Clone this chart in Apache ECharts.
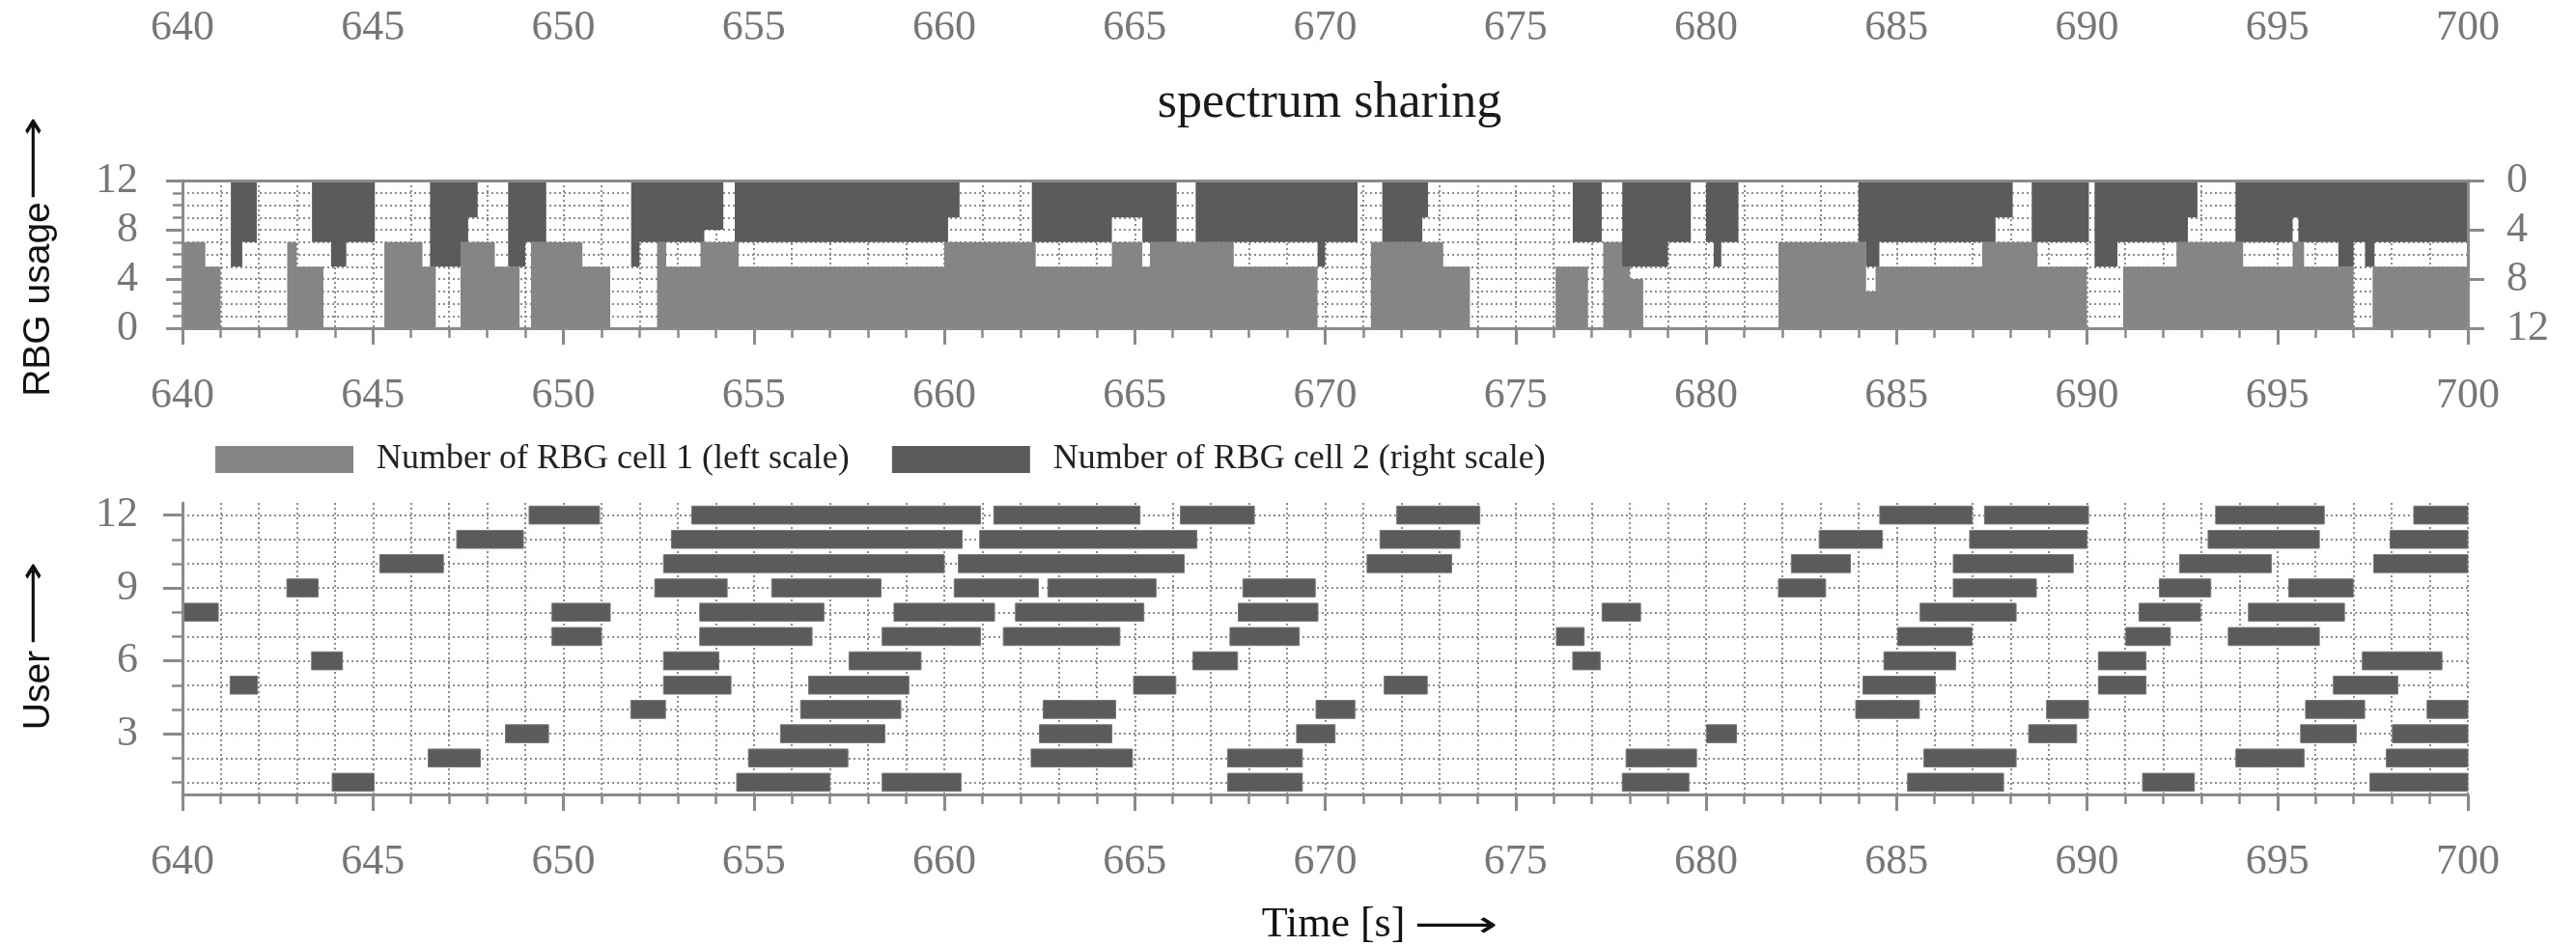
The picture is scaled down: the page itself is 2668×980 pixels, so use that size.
<!DOCTYPE html>
<html>
<head>
<meta charset="utf-8">
<title>spectrum sharing</title>
<script src="https://cdn.jsdelivr.net/npm/echarts@6.0.0/dist/echarts.min.js"></script>
<style>
	html, body { margin: 0; padding: 0; background: #fff; }
	#chart { width: 2668px; height: 980px; }
</style>
</head>
<body>
<div id="chart"></div>
<script>
	// axis ranges / ticks
	const timeExtent = [640, 700];
	const timeStep = 5;
	const rbgTicks = [0, 4, 8, 12];
	const userTicks = [3, 6, 9, 12];
	const userRows = [1, 2, 3, 4, 5, 6, 7, 8, 9, 10, 11, 12];

	const cell1Name = 'Number of RBG cell 1 (left scale)';
	const cell2Name = 'Number of RBG cell 2 (right scale)';

	// [time, RBGs] - value holds until the next time
	const cell1 = [
		[640, 7], [640.6, 5], [641.0, 0], [642.75, 7], [643.0, 5], [643.7, 0], [645.3, 7], [646.3, 5],
		[646.65, 0], [647.3, 7], [648.2, 5], [648.85, 0], [649.15, 7], [650.5, 5], [651.23, 0], [652.46, 7],
		[652.7, 5], [653.6, 7], [654.6, 5], [660.0, 7], [662.4, 5], [664.4, 7], [665.2, 5], [665.4, 7],
		[667.6, 5], [669.8, 0], [671.2, 7], [673.1, 5], [673.8, 0], [676.05, 5], [676.9, 0], [677.3, 7],
		[678.0, 4], [678.35, 0], [681.9, 7], [684.2, 3], [684.45, 5], [687.25, 7], [688.7, 5], [690.0, 0],
		[690.95, 5], [692.35, 7], [694.1, 5], [695.4, 7], [695.7, 5], [697.0, 0], [697.5, 5], [700, 5]
	];
	const cell2 = [
		[640, 0], [641.27, 7], [641.57, 5], [641.95, 0], [643.4, 5], [643.9, 7], [644.3, 5], [645.05, 0],
		[646.5, 7], [647.3, 5], [647.5, 3], [647.75, 0], [648.55, 7], [649.0, 5], [649.55, 0], [651.78, 7],
		[652.0, 5], [653.7, 4], [654.2, 0], [654.5, 5], [660.1, 3], [660.4, 0], [662.3, 5], [664.4, 3],
		[665.2, 5], [666.1, 0], [666.6, 5], [669.8, 7], [670.0, 5], [670.85, 0], [671.5, 5], [672.55, 3],
		[672.7, 0], [676.5, 5], [677.26, 0], [677.8, 7], [679.0, 5], [679.6, 0], [680.0, 5], [680.2, 7],
		[680.4, 5], [680.85, 0], [684.0, 5], [684.2, 7], [684.55, 5], [687.6, 3], [688.05, 0], [688.55, 5],
		[690.05, 0], [690.2, 7], [690.8, 5], [692.65, 3], [692.9, 0], [693.9, 5], [695.4, 3], [695.55, 5],
		[696.6, 7], [697.0, 5], [697.3, 7], [697.55, 5], [700, 5]
	];

	// [start, end] of the busy intervals of each user
	const user1 = [[643.93, 645.03], [654.55, 657.0], [658.37, 660.44], [667.44, 669.4], [677.8, 679.55], [685.29, 687.81], [691.46, 692.82], [697.43, 700]];
	const user2 = [[646.45, 647.82], [654.86, 657.47], [662.28, 664.94], [667.44, 669.4], [677.9, 679.75], [685.72, 688.14], [693.91, 695.7], [697.86, 700]];
	const user3 = [[648.48, 649.61], [655.7, 658.44], [662.5, 664.4], [669.25, 670.26], [680.01, 680.8], [688.47, 689.73], [695.61, 697.07], [698.02, 700]];
	const user4 = [[651.77, 652.68], [656.23, 658.86], [662.6, 664.5], [669.76, 670.78], [683.93, 685.6], [688.94, 690.04], [695.74, 697.29], [698.93, 700]];
	const user5 = [[641.25, 641.97], [652.63, 654.4], [656.44, 659.07], [664.97, 666.08], [671.55, 672.68], [684.12, 686.02], [690.3, 691.55], [696.47, 698.16]];
	const user6 = [[643.39, 644.2], [652.63, 654.08], [657.5, 659.39], [666.53, 667.7], [676.5, 677.22], [684.67, 686.55], [690.3, 691.55], [697.23, 699.32]];
	const user7 = [[649.7, 651.0], [653.58, 656.53], [658.37, 660.95], [661.55, 664.61], [667.5, 669.32], [676.07, 676.8], [685.03, 686.98], [691.02, 692.19], [693.71, 696.1]];
	const user8 = [[640, 640.94], [649.7, 651.23], [653.58, 656.84], [658.68, 661.32], [661.87, 665.24], [667.72, 669.81], [677.27, 678.28], [685.62, 688.14], [691.37, 692.98], [694.24, 696.76]];
	const user9 = [[642.74, 643.56], [652.4, 654.3], [655.47, 658.34], [660.26, 662.47], [662.72, 665.56], [667.84, 669.74], [681.9, 683.14], [686.49, 688.67], [691.9, 693.25], [695.3, 696.99]];
	const user10 = [[645.18, 646.85], [652.63, 660.0], [660.37, 666.3], [671.1, 673.32], [682.24, 683.79], [686.49, 689.64], [692.43, 694.84], [697.53, 700]];
	const user11 = [[647.2, 648.95], [652.84, 660.47], [660.93, 666.63], [671.44, 673.54], [682.97, 684.63], [686.92, 690.0], [693.18, 696.1], [697.96, 700]];
	const user12 = [[649.1, 650.95], [653.37, 660.95], [661.3, 665.14], [666.2, 668.14], [671.88, 674.06], [684.56, 686.99], [687.31, 690.04], [693.38, 696.23], [698.58, 700]];

	const LIGHT = '#858585';
	const DARK = '#5b5b5b';
	const AXIS = '#8a8a8a';
	const GRIDLINE = { type: [2, 3], color: '#8c8c8c', width: 2 };
	const LABEL = { fontFamily: 'Liberation Serif', fontSize: 44, color: '#777' };

	const users = [user1, user2, user3, user4, user5, user6, user7, user8, user9, user10, user11, user12];
	const barData = [];
	users.forEach(function(list, i) {
		list.forEach(function(b) {
			barData.push([b[0], b[1], userRows[i]]);
		});
	});

	function renderBar(params, api) {
		const start = api.coord([api.value(0), api.value(2)]);
		const end = api.coord([api.value(1), api.value(2)]);
		const h = api.size([0, 1])[1] * 0.74;
		const shape = echarts.graphic.clipRectByRect({
			x: start[0], y: start[1] - h / 2, width: end[0] - start[0], height: h
		}, {
			x: params.coordSys.x, y: params.coordSys.y,
			width: params.coordSys.width, height: params.coordSys.height
		});
		return shape && {
			type: 'rect',
			shape: shape,
			style: { fill: DARK, stroke: '#777', lineWidth: 1 }
		};
	}

	// time axis, used 5 times (axis with labels, top border, grid lines)
	function timeAxis(grid, extra) {
		return Object.assign({
			gridIndex: grid,
			type: 'value',
			min: timeExtent[0],
			max: timeExtent[1],
			interval: timeStep,
			axisLine: { show: false, onZero: false, lineStyle: { color: AXIS, width: 3 } },
			axisTick: { show: false },
			minorTick: { show: false, splitNumber: 5 },
			axisLabel: { show: false },
			splitLine: { show: false },
			minorSplitLine: { show: false }
		}, extra);
	}

	const mainTicks = {
		axisLine: { show: true, onZero: false, lineStyle: { color: AXIS, width: 3 } },
		axisTick: { show: true, inside: false, length: 17, lineStyle: { color: AXIS, width: 3 } },
		minorTick: { show: true, splitNumber: 5, length: 10, lineStyle: { color: AXIS, width: 2.5 } }
	};

	// rotated axis names with a stretched long arrow
	function nameText(text, x, y, rotated, font) {
		return {
			type: 'text', x: x, y: y, rotation: rotated ? Math.PI / 2 : 0,
			style: { text: text, font: font, fill: '#111', textAlign: 'center', textVerticalAlign: 'middle' }
		};
	}
	function arrow(x, y, rotated, font) {
		return {
			type: 'text', x: x, y: y, rotation: rotated ? Math.PI / 2 : 0, scaleX: 1.6,
			style: { text: '\u27F6', font: font, fill: '#111', textAlign: 'center', textVerticalAlign: 'middle' }
		};
	}

	const chart = echarts.init(document.getElementById('chart'));

	chart.setOption({
		animation: false,
		backgroundColor: '#fff',
		title: {
			text: 'spectrum sharing',
			left: 1372,
			top: 76,
			textAlign: 'center',
			textStyle: { fontFamily: 'Liberation Serif', fontSize: 52, fontWeight: 'normal', color: '#1a1a1a' }
		},
		legend: {
			left: 218,
			top: 453,
			itemWidth: 143,
			itemHeight: 28,
			itemGap: 44,
			icon: 'rect',
			selectedMode: false,
			textStyle: { fontFamily: 'Liberation Serif', fontSize: 36, color: '#222', padding: [0, 0, 0, 19] },
			data: [
				{ name: cell1Name, itemStyle: { color: LIGHT } },
				{ name: cell2Name, itemStyle: { color: DARK } }
			]
		},
		grid: [
			{ left: 189, top: 187, width: 2367, height: 153, outerBoundsMode: 'none' },
			{ left: 189, top: 521, width: 2367, height: 302, outerBoundsMode: 'none' }
		],
		xAxis: [
			timeAxis(0, Object.assign({ position: 'bottom', z: 5, axisLabel: Object.assign({ margin: 48 }, LABEL) }, mainTicks)),
			timeAxis(0, {
				position: 'top', z: 5,
				axisLine: { show: true, onZero: false, lineStyle: { color: AXIS, width: 3 } },
				axisLabel: Object.assign({ margin: 136 }, LABEL)
			}),
			timeAxis(0, { position: 'bottom', splitLine: { show: true, lineStyle: GRIDLINE }, minorSplitLine: { show: true, lineStyle: GRIDLINE } }),
			timeAxis(1, Object.assign({ position: 'bottom', z: 5, axisLabel: Object.assign({ margin: 48 }, LABEL) }, mainTicks)),
			timeAxis(1, { position: 'bottom', splitLine: { show: true, lineStyle: GRIDLINE }, minorSplitLine: { show: true, lineStyle: GRIDLINE } })
		],
		yAxis: [
			{
				gridIndex: 0, type: 'value', position: 'left', z: 5,
				min: rbgTicks[0], max: rbgTicks[rbgTicks.length - 1], interval: rbgTicks[1] - rbgTicks[0],
				axisLine: { show: true, lineStyle: { color: AXIS, width: 3 } },
				axisTick: { show: true, length: 17, lineStyle: { color: AXIS, width: 3 } },
				minorTick: { show: true, splitNumber: 4, length: 10, lineStyle: { color: AXIS, width: 2.5 } },
				axisLabel: Object.assign({ margin: 46 }, LABEL),
				splitLine: { show: false }
			},
			{
				gridIndex: 0, type: 'value', position: 'right', inverse: true, z: 5,
				min: rbgTicks[0], max: rbgTicks[rbgTicks.length - 1], interval: rbgTicks[1] - rbgTicks[0],
				axisLine: { show: true, lineStyle: { color: AXIS, width: 3 } },
				axisTick: { show: true, length: 17, lineStyle: { color: AXIS, width: 3 } },
				axisLabel: Object.assign({ margin: 40 }, LABEL),
				splitLine: { show: false }
			},
			{
				gridIndex: 0, type: 'value', position: 'left',
				min: rbgTicks[0], max: rbgTicks[rbgTicks.length - 1], interval: rbgTicks[1] - rbgTicks[0],
				axisLine: { show: false }, axisTick: { show: false }, axisLabel: { show: false },
				minorTick: { show: false, splitNumber: 4 },
				splitLine: { show: true, lineStyle: GRIDLINE },
				minorSplitLine: { show: true, lineStyle: GRIDLINE }
			},
			{
				gridIndex: 1, type: 'value', position: 'left', z: 5,
				min: 0.5, max: 12.5,
				axisLine: { show: true, lineStyle: { color: AXIS, width: 3 } },
				axisTick: { show: true, length: 20, customValues: userTicks, lineStyle: { color: AXIS, width: 3 } },
				axisLabel: Object.assign({ margin: 46, customValues: userTicks }, LABEL),
				splitLine: { show: false }
			},
			{
				gridIndex: 1, type: 'value', position: 'left',
				min: 0.5, max: 12.5,
				axisLine: { show: false },
				axisTick: { show: true, length: 11, customValues: userRows, lineStyle: { color: AXIS, width: 2.5 } },
				axisLabel: { show: false },
				splitLine: { show: true, lineStyle: GRIDLINE }
			}
		],
		series: [
			{
				name: cell1Name,
				type: 'line', step: 'end',
				xAxisIndex: 0, yAxisIndex: 0,
				data: cell1,
				symbol: 'none',
				color: LIGHT,
				lineStyle: { width: 0 },
				areaStyle: { color: LIGHT, opacity: 1 }
			},
			{
				name: cell2Name,
				type: 'line', step: 'end',
				xAxisIndex: 0, yAxisIndex: 1,
				data: cell2,
				symbol: 'none',
				color: DARK,
				lineStyle: { width: 0 },
				areaStyle: { color: DARK, opacity: 1 }
			},
			{
				type: 'custom',
				xAxisIndex: 3, yAxisIndex: 3,
				renderItem: renderBar,
				encode: { x: [0, 1], y: 2 },
				data: barData
			}
		],
		graphic: [
			nameText('RBG usage', 40, 310, true, '39px "Liberation Sans"'),
			arrow(36, 164, true, '38px "DejaVu Sans"'),
			nameText('User', 40, 715, true, '39px "Liberation Sans"'),
			arrow(36, 625, true, '38px "DejaVu Sans"'),
			nameText('Time [s]', 1381, 958, false, '44px "Liberation Serif"'),
			arrow(1508, 960, false, '38px "DejaVu Sans"')
		]
	});
</script>
</body>
</html>
